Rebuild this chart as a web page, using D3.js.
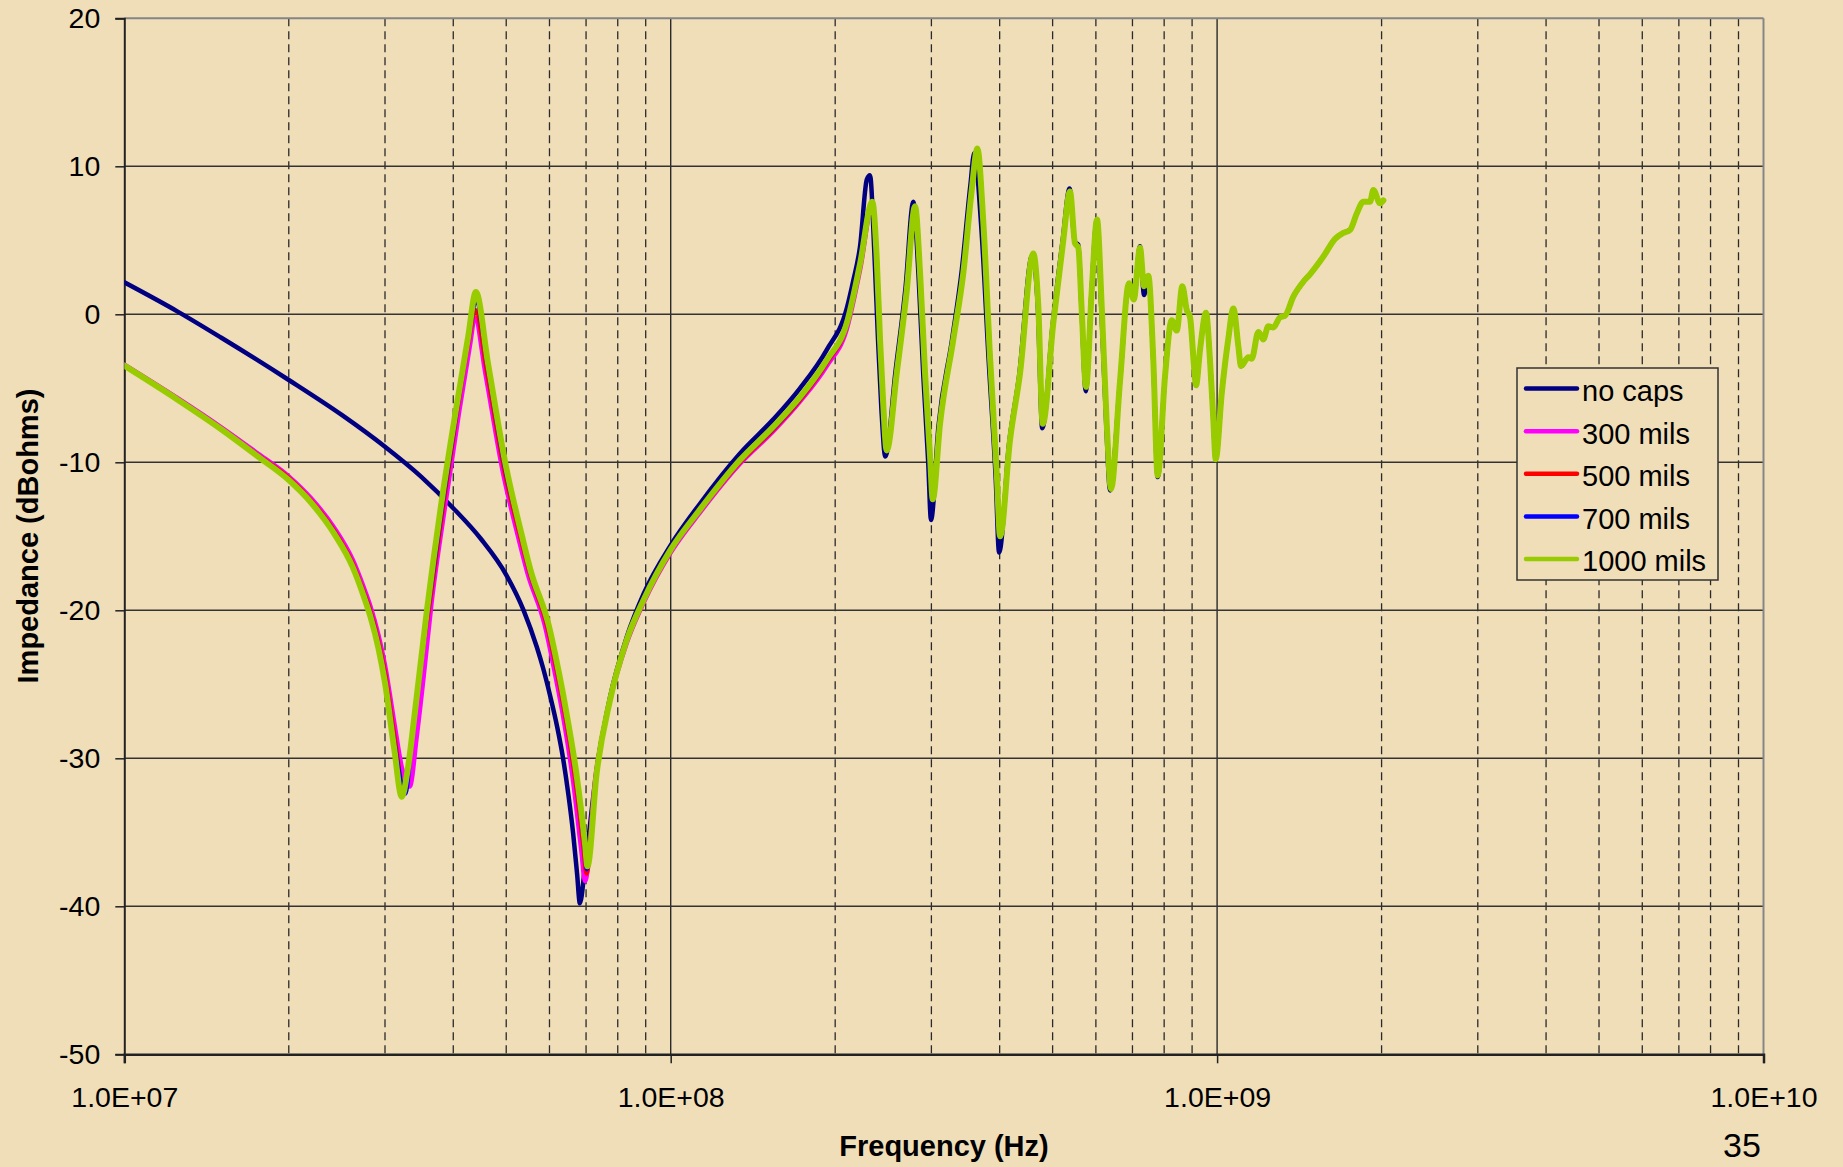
<!DOCTYPE html>
<html>
<head>
<meta charset="utf-8">
<script src="https://cdn.jsdelivr.net/npm/d3@7/dist/d3.min.js"></script>
<style>
  html, body { margin: 0; padding: 0; background: #F0DEB9; }
  svg { display: block; }
  text { font-family: "Liberation Sans", Arial, sans-serif; fill: #000; }
</style>
</head>
<body>
<svg id="chart" width="1843" height="1167"></svg>
<script>
// ---------------- DATA ----------------
const seriesNames = ["no caps", "300 mils", "500 mils", "700 mils", "1000 mils"];
const xTickValues = [1e7, 1e8, 1e9, 1e10];
const xTickLabels = ["1.0E+07", "1.0E+08", "1.0E+09", "1.0E+10"];
const yTickValues = [-50, -40, -30, -20, -10, 0, 10, 20];

// [frequency (Hz), impedance (dBohms)]
const noCapsLow = [
  [1.0e7, 2.16], [1.25e7, 0.2], [1.5e7, -1.55], [2.0e7, -4.44], [2.5e7, -6.8],
  [3.0e7, -8.95], [3.5e7, -11.0], [4.0e7, -13.1], [4.5e7, -15.2], [5.0e7, -17.6],
  [5.38e7, -20.0], [5.69e7, -22.5], [5.84e7, -23.9], [6.01e7, -25.7], [6.2e7, -27.9],
  [6.36e7, -30.1], [6.5e7, -32.5], [6.63e7, -35.1], [6.74e7, -37.8], [6.82e7, -39.8],
  [6.97e7, -37.3], [7.32e7, -30.8], [7.74e7, -25.9], [8.31e7, -21.8], [8.92e7, -18.9],
  [1.0e8, -15.6], [1.131e8, -12.8], [1.339e8, -9.4], [1.541e8, -7.1], [1.724e8, -5.0],
  [1.93e8, -2.4], [2.1e8, 0.4], [2.159e8, 2.3], [2.221e8, 4.6], [2.285e8, 9.1],
  [2.316e8, 9.4]
];
const noCapsMid = [
  [2.36e8, 4.0], [2.395e8, -1.6], [2.43e8, -6.4], [2.47e8, -9.6], [2.58e8, -3.8],
  [2.69e8, 1.8], [2.78e8, 7.6], [2.84e8, 2.8], [2.90e8, -4.2], [2.96e8, -10.0],
  [2.995e8, -13.9], [3.09e8, -7.6], [3.27e8, -1.8], [3.41e8, 3.0], [3.535e8, 8.7],
  [3.594e8, 10.9], [3.70e8, 6.0], [3.82e8, -3.2], [3.935e8, -11.2], [3.99e8, -16.1],
  [4.16e8, -8.8], [4.34e8, -4.2], [4.59e8, 4.0], [4.70e8, 0.3], [4.786e8, -7.7],
  [5.00e8, -0.7], [5.22e8, 5.1], [5.37e8, 8.5], [5.49e8, 4.9], [5.57e8, 4.7],
  [5.65e8, 0.2], [5.75e8, -5.2], [5.89e8, 1.5], [6.02e8, 6.3], [6.14e8, 0.3],
  [6.27e8, -7.6], [6.37e8, -11.9], [6.64e8, -4.6], [6.90e8, 2.1], [7.04e8, 1.0],
  [7.227e8, 4.6], [7.35e8, 1.3], [7.484e8, 2.4], [7.643e8, -3.2], [7.786e8, -11.0]
];
const caps300Low = [
  [1.0e7, -3.4], [1.25e7, -5.65], [1.5e7, -7.6], [1.77e7, -9.5], [2.0e7, -10.95],
  [2.2e7, -12.45], [2.42e7, -14.4], [2.62e7, -16.6], [2.74e7, -18.4], [2.82e7, -19.7],
  [2.92e7, -21.7], [3.0e7, -23.7], [3.12e7, -27.6], [3.22e7, -30.6], [3.33e7, -31.9],
  [3.43e7, -28.5], [3.53e7, -24.5], [3.65e7, -19.5], [3.87e7, -12.8], [4.10e7, -6.6],
  [4.30e7, -1.9], [4.38e7, -0.2], [4.58e7, -4.0], [4.92e7, -10.5], [5.27e7, -15.2],
  [5.46e7, -17.4], [5.89e7, -21.1], [6.15e7, -24.4], [6.35e7, -27.1], [6.62e7, -31.4],
  [6.86e7, -36.2], [6.97e7, -38.3], [7.28e7, -31.3], [7.72e7, -26.3], [8.31e7, -22.2],
  [8.92e7, -19.5], [1.0e8, -16.1], [1.131e8, -13.4], [1.339e8, -10.1], [1.541e8, -7.9],
  [1.724e8, -5.9], [1.93e8, -3.5], [2.1e8, -1.0], [2.221e8, 3.0], [2.339e8, 7.3]
];
const caps500Low = [
  [1.0e7, -3.43], [1.25e7, -5.7], [1.5e7, -7.66], [1.77e7, -9.6], [2.0e7, -11.05],
  [2.2e7, -12.6], [2.42e7, -14.6], [2.62e7, -16.85], [2.74e7, -18.7], [2.82e7, -20.0],
  [2.92e7, -22.1], [3.0e7, -24.2], [3.12e7, -28.4], [3.25e7, -32.1], [3.35e7, -29.0],
  [3.45e7, -25.0], [3.62e7, -19.6], [3.84e7, -12.8], [4.07e7, -6.5], [4.28e7, -1.6],
  [4.39e7, 0.3], [4.60e7, -3.7], [4.95e7, -10.4], [5.31e7, -15.1], [5.50e7, -17.3],
  [5.93e7, -21.0], [6.20e7, -24.3], [6.40e7, -27.0], [6.68e7, -31.3], [6.92e7, -36.0],
  [7.01e7, -37.8], [7.30e7, -31.1], [7.73e7, -26.2], [8.31e7, -22.1], [8.92e7, -19.4],
  [1.0e8, -16.0], [1.131e8, -13.3], [1.339e8, -10.0], [1.541e8, -7.8], [1.724e8, -5.8],
  [1.93e8, -3.3], [2.1e8, -0.8], [2.221e8, 3.2], [2.339e8, 7.4]
];
const caps700Low = [
  [1.0e7, -3.46], [1.25e7, -5.73], [1.5e7, -7.7], [1.77e7, -9.65], [2.0e7, -11.15],
  [2.2e7, -12.7], [2.42e7, -14.7], [2.62e7, -17.0], [2.74e7, -18.85], [2.82e7, -20.2],
  [2.92e7, -22.35], [3.0e7, -24.6], [3.12e7, -28.9], [3.27e7, -32.4], [3.34e7, -29.7],
  [3.44e7, -25.5], [3.60e7, -19.8], [3.82e7, -12.9], [4.06e7, -6.5], [4.27e7, -1.5],
  [4.40e7, 0.9], [4.62e7, -3.5], [4.97e7, -10.3], [5.33e7, -15.0], [5.52e7, -17.3],
  [5.96e7, -21.0], [6.23e7, -24.3], [6.43e7, -27.0], [6.71e7, -31.2], [6.95e7, -35.9],
  [7.02e7, -37.5], [7.31e7, -31.0], [7.74e7, -26.1], [8.31e7, -22.0], [8.92e7, -19.3],
  [1.0e8, -15.95], [1.131e8, -13.25], [1.339e8, -9.9], [1.541e8, -7.7], [1.724e8, -5.7],
  [1.93e8, -3.2], [2.1e8, -0.7], [2.221e8, 3.3], [2.339e8, 7.5]
];
const caps1000Low = [
  [1.0e7, -3.47], [1.25e7, -5.75], [1.5e7, -7.73], [1.77e7, -9.7], [2.0e7, -11.2],
  [2.2e7, -12.75], [2.42e7, -14.8], [2.62e7, -17.1], [2.74e7, -19.0], [2.82e7, -20.4],
  [2.92e7, -22.6], [3.0e7, -24.9], [3.12e7, -29.4], [3.22e7, -32.6], [3.30e7, -30.8],
  [3.40e7, -27.0], [3.58e7, -20.0], [3.80e7, -12.9], [4.04e7, -6.6], [4.26e7, -1.5],
  [4.40e7, 1.5], [4.63e7, -3.3], [4.99e7, -10.2], [5.345e7, -15.0], [5.54e7, -17.3],
  [5.98e7, -21.0], [6.25e7, -24.3], [6.45e7, -27.0], [6.73e7, -31.2], [6.97e7, -35.8],
  [7.04e7, -37.3], [7.32e7, -31.0], [7.74e7, -26.1], [8.31e7, -22.0], [8.92e7, -19.3],
  [1.0e8, -15.9], [1.131e8, -13.2], [1.339e8, -9.85], [1.541e8, -7.6], [1.724e8, -5.6],
  [1.93e8, -3.1], [2.1e8, -0.6], [2.221e8, 3.4], [2.339e8, 7.6]
];
const capsMid = [
  [2.382e8, 3.9], [2.416e8, -1.7], [2.45e8, -6.2], [2.485e8, -9.2], [2.592e8, -4.0],
  [2.704e8, 1.6], [2.80e8, 7.3], [2.86e8, 2.8], [2.921e8, -4.0], [2.983e8, -9.6],
  [3.017e8, -12.5], [3.111e8, -7.4], [3.29e8, -1.7], [3.432e8, 2.8], [3.556e8, 8.4],
  [3.641e8, 11.2], [3.734e8, 6.2], [3.841e8, -2.9], [3.951e8, -10.7], [4.007e8, -15.0],
  [4.178e8, -8.5], [4.358e8, -4.0], [4.609e8, 4.1], [4.708e8, 0.5], [4.796e8, -7.4],
  [5.014e8, -0.6], [5.23e8, 5.0], [5.38e8, 8.3], [5.494e8, 4.8], [5.572e8, 4.5],
  [5.652e8, 0.3], [5.756e8, -4.9], [5.896e8, 1.6], [6.029e8, 6.4], [6.15e8, 0.5],
  [6.281e8, -7.4], [6.395e8, -11.8], [6.643e8, -4.5], [6.90e8, 2.1], [7.038e8, 1.0],
  [7.227e8, 4.5], [7.35e8, 1.9], [7.484e8, 2.6], [7.643e8, -3.1], [7.786e8, -10.9]
];
const sharedTail = [
  [8.029e8, -4.2], [8.259e8, -0.4], [8.436e8, -1.1], [8.637e8, 1.9], [8.799e8, 0.3],
  [8.922e8, -0.2], [9.074e8, -3.5], [9.151e8, -4.8], [9.306e8, -2.4], [9.544e8, 0.1],
  [9.705e8, -3.1], [9.842e8, -7.1], [9.94e8, -9.8], [1.020e9, -5.3], [1.048e9, -1.7],
  [1.071e9, 0.4], [1.094e9, -2.2], [1.106e9, -3.5], [1.141e9, -2.9], [1.157e9, -3.0],
  [1.190e9, -1.2], [1.215e9, -1.7], [1.241e9, -0.8], [1.267e9, -0.9], [1.304e9, -0.2],
  [1.331e9, -0.1], [1.379e9, 1.2], [1.438e9, 2.2], [1.479e9, 2.7], [1.565e9, 3.9],
  [1.644e9, 5.1], [1.702e9, 5.5], [1.751e9, 5.7], [1.801e9, 6.8], [1.852e9, 7.6],
  [1.905e9, 7.6], [1.932e9, 8.4], [1.987e9, 7.5], [2.015e9, 7.7]
];
const seriesColors = ["#000080", "#FF00FF", "#FF0000", "#0000FF", "#99CC00"];

// ---------------- BUILD ----------------
const seriesData = [
  noCapsLow.concat(noCapsMid, sharedTail),
  caps300Low.concat(capsMid, sharedTail),
  caps500Low.concat(capsMid, sharedTail),
  caps700Low.concat(capsMid, sharedTail),
  caps1000Low.concat(capsMid, sharedTail)
];
const lineWidths = [4.5, 4.5, 4.2, 4.2, 6];

const W = 1843, H = 1167;
const pL = 124.3, pR = 1763.5, pT = 18.3, pB = 1054.3;
const FONT = '"Liberation Sans", Arial, sans-serif';
const BG = "#F0DEB9";

const svg = d3.select("#chart");
svg.append("rect").attr("width", W).attr("height", H).attr("fill", BG);

const x = d3.scaleLog().domain([1e7, 1e10]).range([pL, pR]);
const y = d3.scaleLinear().domain([-50, 20]).range([pB, pT]);

// minor dashed vertical grid
const minor = [];
[1e7, 1e8, 1e9].forEach(d => { for (let k = 2; k <= 9; k++) minor.push(d * k); });
svg.append("g").selectAll("line").data(minor).join("line")
  .attr("x1", d => x(d)).attr("x2", d => x(d))
  .attr("y1", pT).attr("y2", pB)
  .attr("stroke", "#2a2a2a").attr("stroke-width", 1.3)
  .attr("stroke-dasharray", "8,5");

// major vertical grid
svg.append("g").selectAll("line").data([1e8, 1e9]).join("line")
  .attr("x1", d => x(d)).attr("x2", d => x(d))
  .attr("y1", pT).attr("y2", pB)
  .attr("stroke", "#2a2a2a").attr("stroke-width", 1.4);

// horizontal grid
svg.append("g").selectAll("line").data(yTickValues.filter(v => v > -50 && v < 20)).join("line")
  .attr("x1", pL).attr("x2", pR)
  .attr("y1", d => y(d)).attr("y2", d => y(d))
  .attr("stroke", "#333").attr("stroke-width", 1.4);

// top & right border (gray)
svg.append("line").attr("x1", pL).attr("x2", pR).attr("y1", pT).attr("y2", pT)
  .attr("stroke", "#858585").attr("stroke-width", 2);
svg.append("line").attr("x1", pR).attr("x2", pR).attr("y1", pT).attr("y2", pB)
  .attr("stroke", "#858585").attr("stroke-width", 2);

// axes
const yAxis = d3.axisLeft(y).tickValues(yTickValues).tickSize(9).tickPadding(15)
  .tickFormat(d => String(d));
const gy = svg.append("g").attr("transform", `translate(${pL},0)`).call(yAxis);
gy.select(".domain").attr("stroke", "#222").attr("stroke-width", 2);
gy.selectAll(".tick line").attr("stroke", "#222").attr("stroke-width", 1.5);
gy.selectAll(".tick text").style("font-family", FONT).style("font-size", "28.5px").attr("fill", "#000");

const xAxis = d3.axisBottom(x).tickValues(xTickValues).tickSize(9).tickPadding(23)
  .tickFormat((d, i) => xTickLabels[i]);
const gx = svg.append("g").attr("transform", `translate(0,${pB})`).call(xAxis);
gx.select(".domain").attr("stroke", "#222").attr("stroke-width", 2.5);
gx.selectAll(".tick line").attr("stroke", "#222").attr("stroke-width", 1.5);
gx.selectAll(".tick text").style("font-family", FONT).style("font-size", "28.5px").attr("fill", "#000");

// series lines
const line = d3.line().x(d => x(d[0])).y(d => y(d[1])).curve(d3.curveMonotoneX);
svg.append("clipPath").attr("id", "clip").append("rect")
  .attr("x", pL).attr("y", pT).attr("width", pR - pL).attr("height", pB - pT);
svg.append("g").attr("clip-path", "url(#clip)")
  .selectAll("path").data(seriesData).join("path")
  .attr("d", line)
  .attr("fill", "none")
  .attr("stroke", (d, i) => seriesColors[i])
  .attr("stroke-width", (d, i) => lineWidths[i])
  .attr("stroke-linejoin", "round")
  .attr("stroke-linecap", "round");

// axis titles
svg.append("text").attr("x", 944).attr("y", 1156)
  .attr("text-anchor", "middle").style("font-family", FONT)
  .style("font-size", "29px").style("font-weight", "bold")
  .text("Frequency (Hz)");
svg.append("text").attr("transform", "translate(38,536) rotate(-90)")
  .attr("text-anchor", "middle").style("font-family", FONT)
  .style("font-size", "29px").style("font-weight", "bold")
  .text("Impedance (dBohms)");

// slide number
svg.append("text").attr("x", 1742).attr("y", 1156.5)
  .attr("text-anchor", "middle").style("font-family", FONT)
  .style("font-size", "34px").text("35");

// legend
const lg = svg.append("g");
lg.append("rect").attr("x", 1517).attr("y", 368).attr("width", 201).attr("height", 212)
  .attr("fill", BG).attr("stroke", "#333").attr("stroke-width", 1.5);
const rowY = d3.scalePoint().domain(seriesNames).range([388.5, 559]);
const rows = lg.selectAll("g.row").data(seriesNames).join("g").attr("class", "row");
rows.append("line")
  .attr("x1", 1526).attr("x2", 1577)
  .attr("y1", d => rowY(d)).attr("y2", d => rowY(d))
  .attr("stroke", (d, i) => seriesColors[i]).attr("stroke-width", 4.5)
  .attr("stroke-linecap", "round");
rows.append("text")
  .attr("x", 1582).attr("y", d => rowY(d) + 2).attr("dy", "0.36em")
  .style("font-family", FONT).style("font-size", "29px")
  .text(d => d);
</script>
</body>
</html>
